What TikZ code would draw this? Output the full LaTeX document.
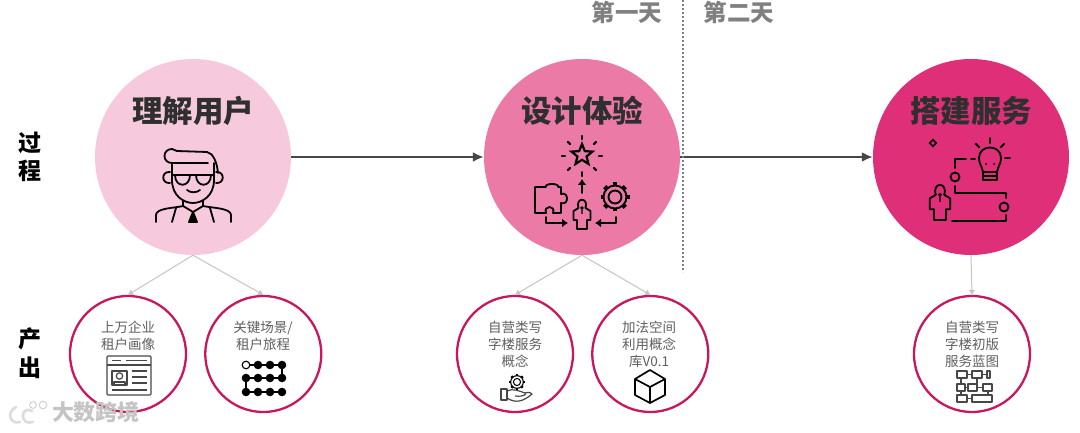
\documentclass[tikz,border=0pt]{standalone}
\usepackage{fontspec}
\setmainfont{Noto Sans CJK SC}
\usepackage{xcolor}
\usetikzlibrary{arrows.meta,calc,positioning,shapes.geometric}
\definecolor{Ink}{HTML}{2F2F2F}
\definecolor{Line}{HTML}{474747}
\definecolor{Soft}{HTML}{C4C4C4}
\definecolor{Body}{HTML}{5F5F5F}
\definecolor{Ring}{HTML}{C8175E}
\definecolor{PinkA}{HTML}{F7C9DC}
\definecolor{PinkB}{HTML}{EB7BA6}
\definecolor{PinkC}{HTML}{DF2F78}
\tikzset{
  pics/gearic/.style={code={
    \foreach \i in {0,45,...,315}{\draw[line width=#1*4.5pt] (\i:#1*11.5) -- (\i:#1*14.5);}
    \draw[line width=#1*1.9pt] (0,0) circle[radius=#1*11.5];
    \draw[line width=#1*1.9pt] (0,0) circle[radius=#1*6.5];
  }},
  pics/personic/.style={code={
    \draw[line width=1.8pt,line join=round] (-3.5,-6) .. controls (-7,-17) and (7,-17) .. (3.5,-6)
      -- (8.5,-3) -- (8.5,6) -- (5,6) -- (5,15) -- (-5,15) -- (-5,6) -- (-8.5,6) -- (-8.5,-3) -- cycle;
    \draw[line width=1.4pt] (0,-6) circle[radius=1] (0,-5) -- (0,0);
  }},
}
\begin{document}
\begin{tikzpicture}[x=1pt,y=-1pt,node distance=17pt,
  big/.style={circle,minimum size=196pt,inner sep=0pt},
  res/.style={circle,draw=Ring,line width=2.3pt,fill=white,minimum size=116pt,inner sep=0pt},
  ttl/.style={font=\fontsize{30.5}{32}\selectfont\bfseries,text=Ink},
  sm/.style={font=\fontsize{13.5}{16.8}\selectfont,text=Body,align=center,anchor=north},
  side/.style={font=\fontsize{23}{28.5}\selectfont\bfseries,text=black,align=center},
  day/.style={font=\fontsize{23.5}{25}\selectfont\bfseries,text=gray},
  a/.style={-{Latex[length=11pt,width=10pt]},line width=2.5pt,draw=Line},
  s/.style={-{Latex[length=5pt,width=7pt]},line width=1pt,draw=Soft},
  ic/.style={line width=1.8pt,draw=black,line cap=round,line join=round},
  icg/.style={line width=1.2pt,draw=Line,line join=round}]
  \useasboundingbox (0,0) rectangle (1080,433);
  \node[big,fill=PinkA] (user) at (193,157) {};
  \node[big,fill=PinkB] (design) at (582,157) {};
  \node[big,fill=PinkC] (build) at (971,157) {};
  \node[ttl] at (193,111) {理解用户};
  \node[ttl] at (582,111) {设计体验};
  \node[ttl] at (971,111) {搭建服务};
  \node[res] (persona) at (128,354) {};
  \node[res,right=of persona] (journey) {};
  \node[res] (concept) at (515,354) {};
  \node[res,right=of concept] (library) {};
  \node[res] (blueprint) at (972,354) {};
  \draw[a] (user) -- (design);
  \draw[a] (design) -- (build);
  \draw[s] (user.south) -- (persona.north);
  \draw[s] (user.south) -- (journey.north);
  \draw[s] (design.south) -- (concept.north);
  \draw[s] (design.south) -- (library.north);
  \draw[s] (build.south) -- (blueprint.north);
  % days
  \coordinate (dtop) at (683,0); \coordinate (dbot) at (683,272);
  \draw[gray,line width=2.2pt,dash pattern=on 2pt off 2pt] (dtop) -- (dbot);
  \node[day] at (627,12) {第一天};
  \node[day] at (739,12) {第二天};
  \node[side] at (30,157) {过\\程};
  \node[side] at (30,353) {产\\出};
  % texts
  \node[sm] at (128,318) {上万企业\\租户画像};
  \node[sm] at (263,318) {关键场景/\\租户旅程};
  \node[sm] at (515,318) {自营类写\\字楼服务\\概念};
  \node[sm] at (649,318) {加法空间\\利用概念\\库V0.1};
  \node[sm] at (972,318) {自营类写\\字楼初版\\服务蓝图};
  % man
  \draw[ic] (172,149) .. controls (162,149) and (162,163) .. (172,163) -- (208,163);
  \draw[ic] (172,149) -- (177,151) -- (207,152) .. controls (213,153) and (217,162) .. (218,173);
  \draw[ic] (172,163) -- (172,180) .. controls (172,196) and (184,203) .. (193,203) .. controls (202,203) and (214,196) .. (214,180) -- (214,163);
  \draw[ic] (170,172) .. controls (161,171) and (161,184) .. (170,183) (216,172) .. controls (225,171) and (225,184) .. (216,183);
  \draw[ic] (172,175) -- (214,175);
  \draw[ic] (175,175) .. controls (175,188) and (190,188) .. (190,175) (196,175) .. controls (196,188) and (211,188) .. (211,175);
  \draw[ic] (187,190) .. controls (190,193) and (197,193) .. (200,190);
  \draw[ic] (156,222) -- (156,215) .. controls (156,208) and (175,208) .. (183,206) -- (183,201);
  \draw[ic] (231,222) -- (231,215) .. controls (231,208) and (212,208) .. (203,206) -- (203,201);
  \draw[ic] (183,206) -- (193,212) -- (203,206);
  \draw[ic] (176,208) -- (172,222) (210,208) -- (214,222);
  \draw[ic,fill=black] (193,212) -- (189,222) -- (197,222) -- cycle;
  % design icon
  \node[star,star points=5,star point ratio=2.3,draw=black,line width=2.2pt,minimum size=22pt,inner sep=0pt] (spark) at (582,155) {};
  \foreach \i in {0,45,...,315}{\draw[ic,line width=2.2pt] ($(582,156)+(\i:17)$) -- ($(582,156)+(\i:20)$);}
  \draw[ic] (582,172) -- (582,175);
  \draw[ic,-{Latex[length=6pt,width=9pt]}] (582,193) -- (582,179);
  \draw[ic] (535,187) -- (546,187) .. controls (544,183) and (560,183) .. (558,187) -- (561,187) -- (561,194) .. controls (569,191) and (569,206) .. (561,203) -- (561,213) -- (553,213) .. controls (556,205) and (543,205) .. (546,213) -- (535,213) -- cycle;
  \pic at (582,214) {personic};
  \pic at (615,197) {gearic=1};
  \draw[ic,-{Latex[length=6pt,width=9pt]}] (546,217) -- (546,223) -- (568,223);
  \draw[ic,-{Latex[length=6pt,width=9pt]}] (616,217) -- (616,223) -- (595,223);
  % build icon
  \node[diamond,draw=black,line width=1.6pt,minimum size=7pt,inner sep=0pt] (glint) at (933,143) {};
  \draw[ic] (983,172) .. controls (982,166) and (979,164) .. (979,158) .. controls (979,144) and (1001,144) .. (1001,158) .. controls (1001,164) and (998,166) .. (997,172);
  \draw[ic] (983,172) -- (983,180) -- (997,180) -- (997,172) -- cycle (983,176) -- (997,176);
  \fill[black] (986,164) circle[radius=1] (994,164) circle[radius=1];
  \foreach \i in {-135,-90,-45,0}{\draw[ic] ($(990,158)+(\i:15)$) -- ($(990,158)+(\i:20)$);}
  \draw[ic] (971,159) -- (975,159);
  \draw[ic] (966,159) -- (955,159) -- (955,168);
  \draw[ic] (955,177) circle[radius=4.5];
  \draw[ic] (955,186) -- (955,193) -- (1006,193) -- (1006,198);
  \draw[ic] (1004,207) circle[radius=4.5];
  \draw[ic] (1006,215) -- (1006,221) -- (952,221);
  \pic[scale=1.2] at (940,202) {personic};
  % persona card
  \draw[icg,rounded corners=1pt] (107,356) rectangle (151,395);
  \draw[icg] (107,365) -- (151,365) (112,360.5) -- (121,360.5) (126,360.5) -- (147,360.5);
  \draw[icg] (112,371) rectangle (127,385) (114,385) -- (114,382) -- (125,382) -- (125,385);
  \draw[icg] (119.5,376) circle[radius=3.2];
  \draw[icg] (132,371) -- (147,371) (132,377) -- (147,377) (132,383) -- (147,383) (112,390) -- (147,390);
  % journey dots
  \draw[line width=1.8pt] (246,365) -- (282,365) -- (282,378) -- (246,378) -- (246,392) -- (282,392);
  \foreach \dx/\dy in {258/365,270/365,282/365,246/378,258/378,270/378,282/378,246/392,258/392,270/392,282/392}{\fill[black] (\dx,\dy) circle[radius=4.3];}
  \draw[line width=1.1pt,fill=white] (246,365) circle[radius=3.8];
  % hand and gear
  \pic at (517,382) {gearic=0.55};
  \draw[icg] (501,389) rectangle (507,400);
  \draw[icg] (507,391) .. controls (513,388) and (519,391) .. (525,393) .. controls (527,394) and (524,397) .. (515,396);
  \draw[icg] (507,398) .. controls (516,404) and (524,401) .. (532,394) .. controls (529,391) and (526,393) .. (525,393);
  % cube
  \draw[line width=1.7pt,line join=round] (650,370) -- (665,379) -- (665,395) -- (650,403) -- (635,395) -- (635,379) -- cycle;
  \draw[line width=1.7pt,line join=round] (635,379) -- (650,387) -- (665,379) (650,387) -- (650,403);
  % blueprint
  \foreach \bx/\by/\bw in {957/371/10,972/371/10,987/371/3,957/384/8,968/384/9,983/384/9,957/395/10,972/395/20}{\draw[icg] (\bx,\by) rectangle ++(\bw,7);}
  \draw[icg] (967,374.5) -- (972,374.5) (982,374.5) -- (987,374.5) (965,387.5) -- (968,387.5) (977,387.5) -- (983,387.5) (967,398.5) -- (972,398.5) (961,378) -- (961,384) (977,378) -- (977,384) (961,391) -- (961,395) (988,391) -- (988,395);
  % watermark
  \draw[line width=2.6pt,draw=Soft!60,line cap=round] (16,407) .. controls (6,412) and (10,425) .. (20,422) (32,411) .. controls (24,407) and (20,415) .. (25,421) .. controls (27,423) and (30,423) .. (33,422);
  \draw[line width=1pt,draw=Soft!80] (33,405) circle[radius=3.4] (43,405) circle[radius=3.8];
  \node[font=\fontsize{22}{24}\selectfont\bfseries,text=Soft] (mark) at (96,412) {大数跨境};
\end{tikzpicture}
\end{document}
